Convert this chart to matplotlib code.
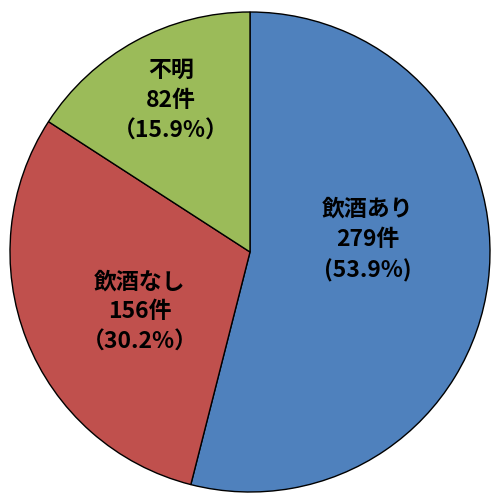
import matplotlib.pyplot as plt

plt.rcParams['font.family'] = ['Noto Sans CJK JP', 'DejaVu Sans']

labels = ['飲酒あり', '飲酒なし', '不明']
counts = [279, 156, 82]
pcts = ['(53.9%)', '（30.2%）', '（15.9%）']
colors = ['#4F81BD', '#C0504D', '#9BBB59']
# label centres in axes data units (pie radius = 1)
label_pos = [(0.49, 0.05), (-0.46, -0.25), (-0.33, 0.63)]

fig = plt.figure(figsize=(5, 5), dpi=100)
ax = fig.add_axes([0, 0, 1, 1])
ax.pie(counts, colors=colors, startangle=90, counterclock=False,
       radius=1, wedgeprops=dict(edgecolor='black', linewidth=1))

for lab, n, p, (x, y) in zip(labels, counts, pcts, label_pos):
    ax.text(x, y, f'{lab}\n{n}件\n{p}', ha='center', va='center',
            fontsize=16.5, fontweight='bold', linespacing=1.4)

ax.set_xlim(-250 / 240, 250 / 240)
ax.set_ylim(-248 / 240, 252 / 240)
ax.set_aspect('equal')
ax.axis('off')

fig.savefig('out.png', dpi=100, facecolor='white')
